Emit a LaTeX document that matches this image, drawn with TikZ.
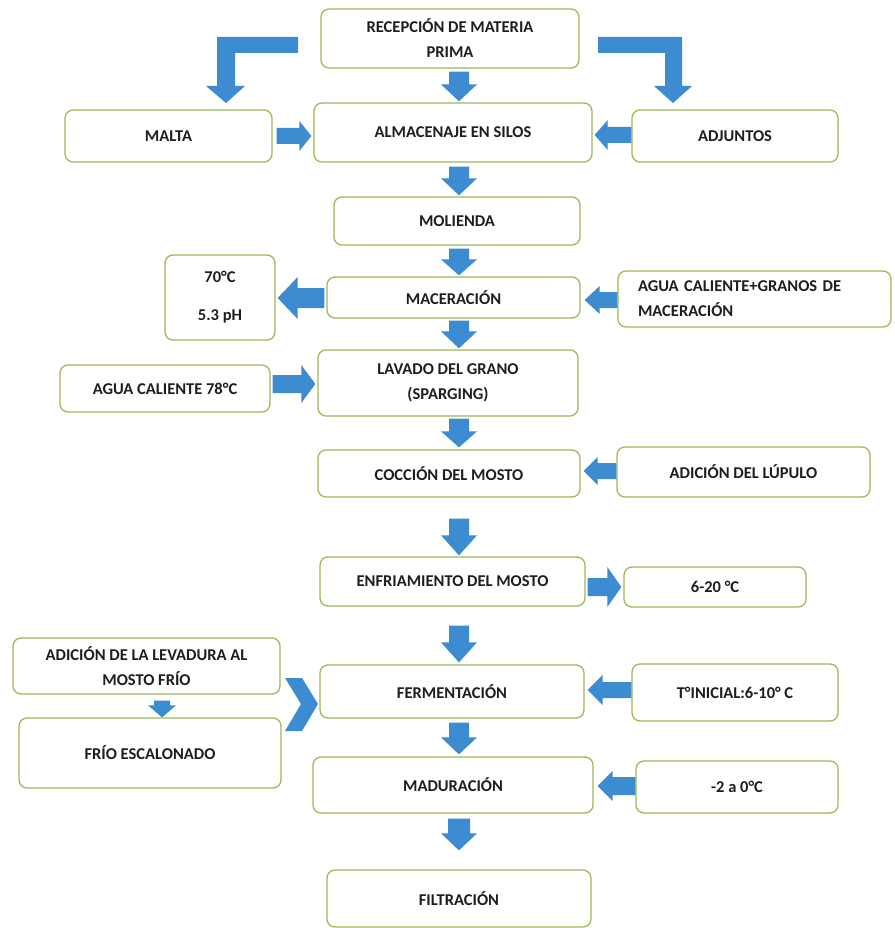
\documentclass[tikz,border=0pt]{standalone}
\usepackage{fontspec}
\setmainfont{Carlito}
\usetikzlibrary{calc}
\definecolor{arrowblue}{HTML}{3D8BD0}
\definecolor{boxgreen}{HTML}{9BBB59}
\definecolor{txt}{HTML}{1E1E1E}
% down block arrow: #1 from node, #2 to node, #3 x, #4 top gap, #5 bottom gap, #6 shaft half, #7 head half, #8 head length
\newcommand\arrdown[8]{%
 \fill[arrowblue] let \p1=(#1.south), \p2=(#2.north) in
  (#3pt-#6pt,\y1-#4pt) -- (#3pt+#6pt,\y1-#4pt) -- (#3pt+#6pt,\y2+#5pt+#8pt) -- (#3pt+#7pt,\y2+#5pt+#8pt)
  -- (#3pt,\y2+#5pt) -- (#3pt-#7pt,\y2+#5pt+#8pt) -- (#3pt-#6pt,\y2+#5pt+#8pt) -- cycle;}
% right block arrow: from #1.east to #2.west at height #3
\newcommand\arrright[8]{%
 \fill[arrowblue] let \p1=(#1.east), \p2=(#2.west) in
  (\x1+#4pt,-#3pt+#6pt) -- (\x2-#5pt-#8pt,-#3pt+#6pt) -- (\x2-#5pt-#8pt,-#3pt+#7pt) -- (\x2-#5pt,-#3pt)
  -- (\x2-#5pt-#8pt,-#3pt-#7pt) -- (\x2-#5pt-#8pt,-#3pt-#6pt) -- (\x1+#4pt,-#3pt-#6pt) -- cycle;}
% left block arrow: from #1.west to #2.east at height #3
\newcommand\arrleft[8]{%
 \fill[arrowblue] let \p1=(#1.west), \p2=(#2.east) in
  (\x1-#4pt,-#3pt+#6pt) -- (\x2+#5pt+#8pt,-#3pt+#6pt) -- (\x2+#5pt+#8pt,-#3pt+#7pt) -- (\x2+#5pt,-#3pt)
  -- (\x2+#5pt+#8pt,-#3pt-#7pt) -- (\x2+#5pt+#8pt,-#3pt-#6pt) -- (\x1-#4pt,-#3pt-#6pt) -- cycle;}
\begin{document}
\begin{tikzpicture}[x=1pt,y=-1pt,
  box/.style={draw=boxgreen, line width=1.3pt, rounded corners=8pt, fill=white, inner sep=0pt,
    font=\fontsize{16.5}{25}\selectfont\bfseries, text=txt, align=center},
  ]
\useasboundingbox (0,0) rectangle (894,928);
\fill[white] (0,0) rectangle (894,928);

\node[box, minimum width=258pt, minimum height=59pt] (rec) at (450,38.5) {RECEPCIÓN DE MATERIA\\PRIMA};
\node[box, minimum width=207pt, minimum height=52pt] (malta) at (168.5,136) {MALTA};
\node[box, minimum width=278pt, minimum height=59pt] (alm) at (453,132.5) {ALMACENAJE EN SILOS};
\node[box, minimum width=206pt, minimum height=52pt] (adj) at (735,136) {ADJUNTOS};
\node[box, minimum width=246pt, minimum height=48pt] (mol) at (457,221) {MOLIENDA};
\node[box, minimum width=110pt, minimum height=85pt] (temp) at (220,297.5) {70°C\\[13pt]5.3 pH};
\node[box, minimum width=253pt, minimum height=41pt] (mac) at (453.5,297.5) {MACERACIÓN};
\node[box, minimum width=273pt, minimum height=56pt, align=left, text width=233pt] (agua) at (754.5,299) {AGUA CALIENTE+GRANOS DE\\MACERACIÓN};
\node[box, minimum width=210pt, minimum height=47pt] (agua78) at (165,388.5) {AGUA CALIENTE 78°C};
\node[box, minimum width=260pt, minimum height=66pt] (lav) at (448,383) {LAVADO DEL GRANO\\(SPARGING)};
\node[box, minimum width=262pt, minimum height=47pt] (coc) at (449,473.5) {COCCIÓN DEL MOSTO};
\node[box, minimum width=253pt, minimum height=50pt] (lup) at (743.5,472) {ADICIÓN DEL LÚPULO};
\node[box, minimum width=265pt, minimum height=49pt] (enf) at (452.5,581.5) {ENFRIAMIENTO DEL MOSTO};
\node[box, minimum width=182pt, minimum height=40pt] (t620) at (715,587) {6-20 °C};
\node[box, minimum width=267pt, minimum height=56pt] (lev) at (146.5,666) {ADICIÓN DE LA LEVADURA AL\\MOSTO FRÍO};
\node[box, minimum width=262pt, minimum height=70pt] (fe) at (150,753) {FRÍO ESCALONADO};
\node[box, minimum width=264pt, minimum height=53pt] (fer) at (452,691.5) {FERMENTACIÓN};
\node[box, minimum width=206pt, minimum height=57pt] (tini) at (735,692.5) {T°INICIAL:6-10° C};
\node[box, minimum width=280pt, minimum height=56pt] (mad) at (453,785) {MADURACIÓN};
\node[box, minimum width=202pt, minimum height=52pt] (m20) at (737,787) {-2 a 0°C};
\node[box, minimum width=264pt, minimum height=57pt] (fil) at (459,898.5) {FILTRACIÓN};

% vertical flow
\arrdown{rec}{alm}{459}{3}{1}{10}{18}{17}
\arrdown{alm}{mol}{459}{4}{1}{10}{18}{17}
\arrdown{mol}{mac}{459}{3}{1}{10}{18}{16}
\arrdown{mac}{lav}{459}{2}{1}{10}{18}{17}
\arrdown{lav}{coc}{459}{2}{2}{10}{18}{16}
\arrdown{coc}{enf}{459}{21}{1}{10}{18}{20}
\arrdown{enf}{fer}{459}{19}{2}{10}{18}{20}
\arrdown{fer}{mad}{459}{4}{2}{10}{18}{17}
\arrdown{mad}{fil}{459}{5}{19}{11}{18}{17}
\arrdown{lev}{fe}{162}{6}{0}{8}{14}{12}

% side arrows
\arrright{malta}{alm}{136}{4}{2}{8}{15}{12}
\arrleft{adj}{alm}{135}{0}{2}{8}{15}{13}
\arrleft{mac}{temp}{298}{2}{2}{10}{21}{20}
\arrleft{agua}{mac}{300}{0}{4}{8}{14}{15}
\arrright{agua78}{lav}{384}{2}{2}{9}{19}{14}
\arrleft{lup}{coc}{471}{0}{3}{8}{14}{14}
\arrright{enf}{t620}{587}{2}{2}{9}{20}{14}
\arrleft{tini}{fer}{690}{0}{3}{8}{15}{15}
\arrleft{m20}{mad}{786}{0}{4}{9}{15}{15}

% bent arrows from reception
\fill[arrowblue] (298,37) -- (298,53) -- (235,53) -- (235,86) -- (245,86) -- (226,103)
  -- (206,86) -- (217,86) -- (217,37) -- cycle;
\fill[arrowblue] (598,37) -- (682,37) -- (682,86) -- (692,86) -- (673,103) -- (654,86)
  -- (665,86) -- (665,53) -- (598,53) -- cycle;
% chevron towards fermentation
\fill[arrowblue] (285,678) -- (302,678) -- (318,704) -- (302,731) -- (285,731) -- (301,704) -- cycle;
\end{tikzpicture}
\end{document}
